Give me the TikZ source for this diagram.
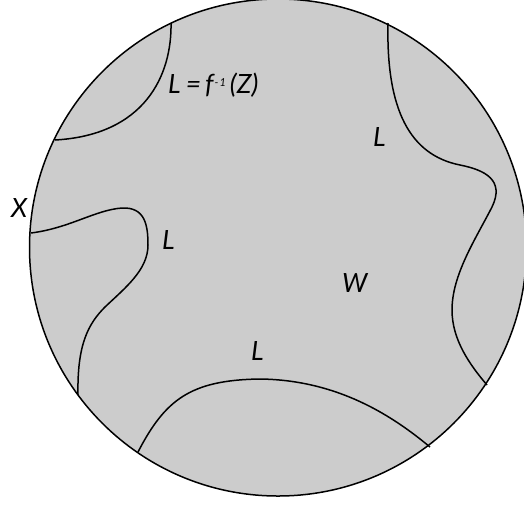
\documentclass[tikz,border=0pt]{standalone}
\usepackage{fontspec}
\setmainfont{Lato}
\definecolor{diskgray}{RGB}{204,204,204}
\begin{document}
\begin{tikzpicture}[x=1pt,y=-1pt,
  curve/.style={line width=1.5pt, black},
  lab/.style={anchor=base west, inner sep=0pt, font=\fontsize{26.5}{30}\selectfont\itshape}]
\useasboundingbox (0,0) rectangle (524,504);
\clip (0,0) rectangle (524,504);
\draw[line width=1.5pt, fill=diskgray] (278,247.5) circle[radius=248.5];
% top-left arc
\draw[curve] (171,23) .. controls (172,75) and (145,135) .. (55,140);
% left wavy curve
\draw[curve] (31,233) .. controls (70,228) and (95,210) .. (122,208)
  .. controls (145,207) and (148,225) .. (148,245)
  .. controls (148,270) and (125,288) .. (105,307)
  .. controls (88,324) and (77,345) .. (78,395);
% bottom curve
\draw[curve] (138,452) .. controls (165,400) and (190,380) .. (260,379)
  .. controls (340,380) and (395,418) .. (430,447);
% right curve
\draw[curve] (388,23) .. controls (386,110) and (410,155) .. (460,165)
  .. controls (485,170) and (505,180) .. (492,207)
  .. controls (475,240) and (452,275) .. (452,310)
  .. controls (452,340) and (470,365) .. (487,385);
% labels
\node[lab] (lz) at (168,93) {L\kern5pt=\kern4pt f\kern1pt\raisebox{7pt}{\fontsize{11}{12}\selectfont -\kern1pt1}\kern4pt(Z)};
\node[lab] (lx) at (11,217) {X};
\node[lab] (l1) at (162,249) {L};
\node[lab] (l2) at (373,146) {L};
\node[lab] (lw) at (342,292) {W};
\node[lab] (l3) at (251,360) {L};
\end{tikzpicture}
\end{document}
